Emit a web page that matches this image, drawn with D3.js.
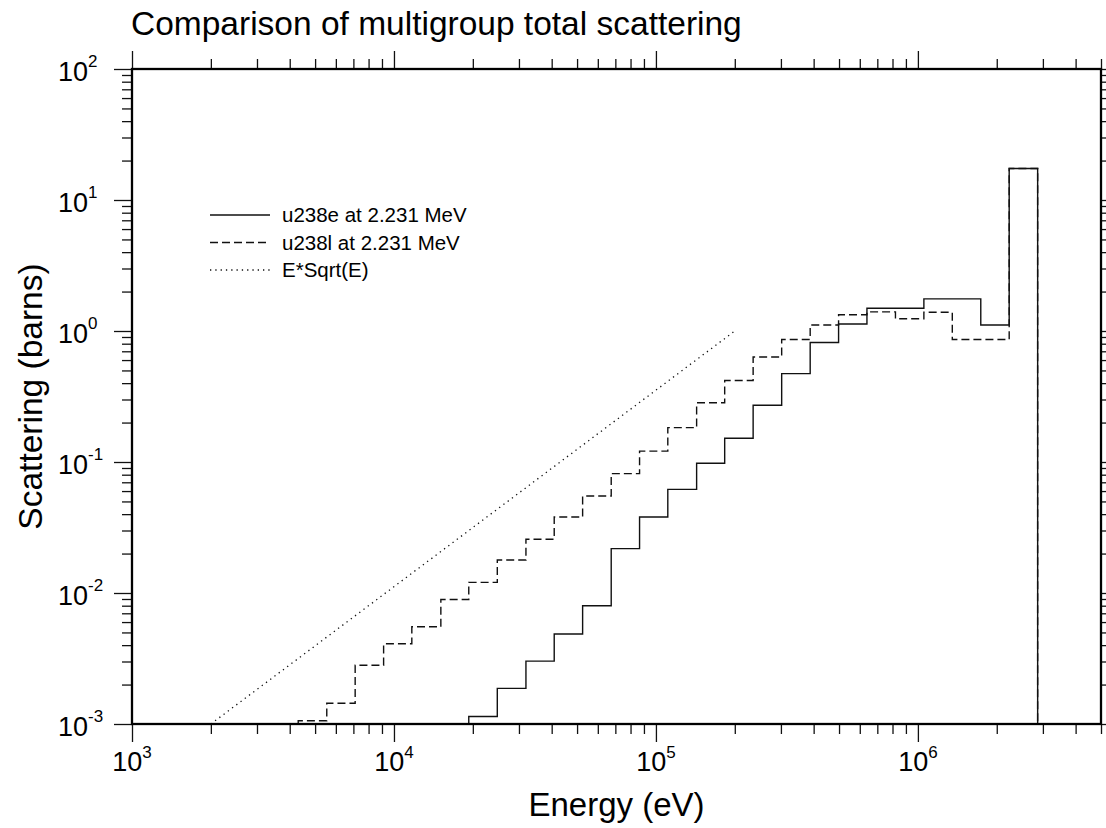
<!DOCTYPE html>
<html>
<head>
<meta charset="utf-8">
<script src="https://cdn.jsdelivr.net/npm/d3@7"></script>
<style>
  body { margin: 0; background: #fff; }
  text { font-family: "Liberation Sans", Arial, Helvetica, sans-serif; fill: #000; }
</style>
</head>
<body>
<div id="chart"></div>
<script>
// group boundaries (eV), lethargy width ~0.25
const groupBounds = [4310, 5540, 7110, 9130, 11700, 15100, 19300, 24800, 31900, 40900,
    52500, 67500, 86600, 111000, 143000, 183000, 235000, 302000, 388000, 498000,
    639000, 821000, 1054000, 1353000, 1738000, 2231000, 2865000];

// u238e at 2.231 MeV (barns per group); null = below plot floor
const u238eValues = [null, null, null, null, null, null, 0.00114, 0.00187, 0.00302, 0.00487,
    0.0080, 0.0218, 0.038, 0.0618, 0.0977, 0.152, 0.271, 0.473, 0.817, 1.13,
    1.49, 1.49, 1.76, 1.76, 1.11, 17.4];

// u238l at 2.231 MeV
const u238lValues = [0.00106, 0.00144, 0.00281, 0.00410, 0.00552, 0.00893, 0.01205, 0.01786, 0.0257, 0.038,
    0.055, 0.0815, 0.121, 0.183, 0.283, 0.419, 0.634, 0.861, 1.11, 1.33,
    1.40, 1.24, 1.39, 0.861, 0.861, 17.4];

// E*Sqrt(E) reference line
const refLine = [[2000, 0.001], [20000, 0.0316], [200000, 1.0]];

const legendLabels = ["u238e at 2.231 MeV", "u238l at 2.231 MeV", "E*Sqrt(E)"];
const xMajor = [1e3, 1e4, 1e5, 1e6];
const yMajor = [1e-3, 1e-2, 1e-1, 1e0, 1e1, 1e2];

const margin = { top: 69, right: 5, bottom: 104, left: 132 },
    width = 969,
    height = 655;

const svg = d3.select("#chart")
    .append("svg")
    .attr("width", 1106)
    .attr("height", 828);

const x = d3.scaleLog().domain([1e3, 5e6]).range([margin.left, margin.left + width]);
const y = d3.scaleLog().domain([1e-3, 1e2]).range([margin.top + height, margin.top]).clamp(true);

const xMinor = x.ticks().filter(v => !xMajor.includes(v));
const yMinor = y.ticks().filter(v => !yMajor.some(m => Math.abs(m - v) / m < 1e-9));

// ticks on all four sides, pointing outward
function drawTicks(axisFn, scale, pos, vals, size) {
    const g = svg.append("g")
        .attr("transform", pos)
        .call(axisFn(scale).tickValues(vals).tickSize(size).tickSizeOuter(0).tickFormat(""));
    g.select(".domain").remove();
    g.selectAll(".tick line").attr("stroke", "#111").attr("stroke-width", 1.3);
}
const bottomY = margin.top + height, rightX = margin.left + width;
drawTicks(d3.axisBottom, x, `translate(0,${bottomY})`, xMinor, 10);
drawTicks(d3.axisBottom, x, `translate(0,${bottomY})`, xMajor, 18);
drawTicks(d3.axisTop, x, `translate(0,${margin.top})`, xMinor, 10);
drawTicks(d3.axisTop, x, `translate(0,${margin.top})`, xMajor, 18);
drawTicks(d3.axisLeft, y, `translate(${margin.left},0)`, yMinor, 10);
drawTicks(d3.axisLeft, y, `translate(${margin.left},0)`, yMajor, 18);
drawTicks(d3.axisRight, y, `translate(${rightX},0)`, yMinor, 10);
drawTicks(d3.axisRight, y, `translate(${rightX},0)`, yMajor, 18);

// step histogram path from bounds + values
function stepPath(values) {
    const pts = [];
    let started = false;
    values.forEach((v, i) => {
        if (v == null) return;
        if (!started) { pts.push([groupBounds[i], 1e-3]); started = true; }
        pts.push([groupBounds[i], v]);
        pts.push([groupBounds[i + 1], v]);
    });
    pts.push([groupBounds[groupBounds.length - 1], 1e-3]);
    return d3.line().x(d => x(d[0])).y(d => y(d[1]))(pts);
}

const plot = svg.append("g");

plot.append("path")
    .attr("d", stepPath(u238lValues))
    .attr("fill", "none")
    .attr("stroke", "#111")
    .attr("stroke-width", 1.4)
    .attr("stroke-dasharray", "8,4");

plot.append("path")
    .attr("d", stepPath(u238eValues))
    .attr("fill", "none")
    .attr("stroke", "#111")
    .attr("stroke-width", 1.4);

plot.append("path")
    .attr("d", d3.line().x(d => x(d[0])).y(d => y(d[1]))(refLine))
    .attr("fill", "none")
    .attr("stroke", "#111")
    .attr("stroke-width", 1.3)
    .attr("stroke-dasharray", "1.3,4");

// frame
svg.append("rect")
    .attr("x", margin.left).attr("y", margin.top)
    .attr("width", width).attr("height", height)
    .attr("fill", "none")
    .attr("stroke", "#000")
    .attr("stroke-width", 2.3);

// tick labels with superscript exponents
xMajor.forEach(v => {
    const t = svg.append("text")
        .attr("x", x(v)).attr("y", 771)
        .attr("text-anchor", "middle")
        .style("font-size", "27px");
    t.append("tspan").text("10");
    t.append("tspan").attr("dy", -13).style("font-size", "17px").text(Math.round(Math.log10(v)));
});
yMajor.forEach(v => {
    const t = svg.append("text")
        .attr("x", 58).attr("y", y(v) + 11.5)
        .attr("text-anchor", "start")
        .style("font-size", "27px");
    t.append("tspan").text("10");
    t.append("tspan").attr("dy", -14).style("font-size", "17px").text(Math.round(Math.log10(v)));
});

// titles
svg.append("text")
    .attr("x", 131).attr("y", 35)
    .style("font-size", "33.5px")
    .text("Comparison of multigroup total scattering");

svg.append("text")
    .attr("x", margin.left + width / 2).attr("y", 816)
    .attr("text-anchor", "middle")
    .style("font-size", "33px")
    .text("Energy (eV)");

svg.append("text")
    .attr("transform", `translate(42,${margin.top + height / 2}) rotate(-90)`)
    .attr("text-anchor", "middle")
    .style("font-size", "33.5px")
    .text("Scattering (barns)");

// legend
const dashes = [null, "8,4", "1.3,4"];
legendLabels.forEach((label, i) => {
    const ly = 215 + i * 27.5;
    svg.append("line")
        .attr("x1", 210).attr("x2", 270)
        .attr("y1", ly).attr("y2", ly)
        .attr("stroke", "#111")
        .attr("stroke-width", 1.4)
        .attr("stroke-dasharray", dashes[i]);
    svg.append("text")
        .attr("x", 282).attr("y", ly)
        .attr("dy", "0.35em")
        .style("font-size", "20.5px")
        .text(label);
});
</script>
</body>
</html>
